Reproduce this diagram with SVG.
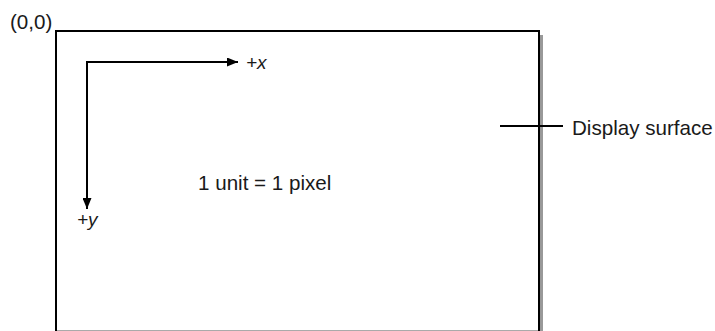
<svg xmlns="http://www.w3.org/2000/svg" width="715" height="331" viewBox="0 0 715 331">
  <style>
    .t { font-family: "Liberation Sans", Arial, sans-serif; font-size: 20.6px; fill: #1a1a1a; }
    .ti { font-family: "Liberation Sans", Arial, sans-serif; font-size: 19px; font-style: italic; fill: #1a1a1a; }
    .ln { stroke: #000; stroke-width: 2; fill: none; }
  </style>
  <defs>
    <marker id="ah" markerWidth="11" markerHeight="9" refX="11" refY="4.5" orient="auto" markerUnits="userSpaceOnUse">
      <path d="M0,0 L11,4.5 L0,9 Z" fill="#000"/>
    </marker>
  </defs>
  <rect width="715" height="331" fill="#fff"/>
  <g id="display-surface">
    <line x1="541.5" y1="35" x2="541.5" y2="331" stroke="#999" stroke-width="3"/>
    <line x1="57" y1="330.5" x2="538" y2="330.5" stroke="#aaa" stroke-width="1"/>
    <path class="ln" d="M56,331 L56,31 L539,31 L539,331"/>
  </g>
  <g id="origin-label">
    <text class="t" x="10" y="29">(0,0)</text>
  </g>
  <g id="connectors">
    <line class="ln" x1="86" y1="62" x2="238" y2="62" marker-end="url(#ah)"/>
    <line class="ln" x1="87" y1="61" x2="87" y2="209" marker-end="url(#ah)"/>
    <line class="ln" x1="500" y1="126" x2="563" y2="126"/>
  </g>
  <g id="x-label"><text class="ti" x="246" y="69">+x</text></g>
  <g id="y-label"><text class="ti" x="77" y="226">+y</text></g>
  <g id="unit-label"><text class="t" x="198" y="190">1 unit = 1 pixel</text></g>
  <g id="surface-label"><text class="t" x="572" y="135">Display surface</text></g>
</svg>
